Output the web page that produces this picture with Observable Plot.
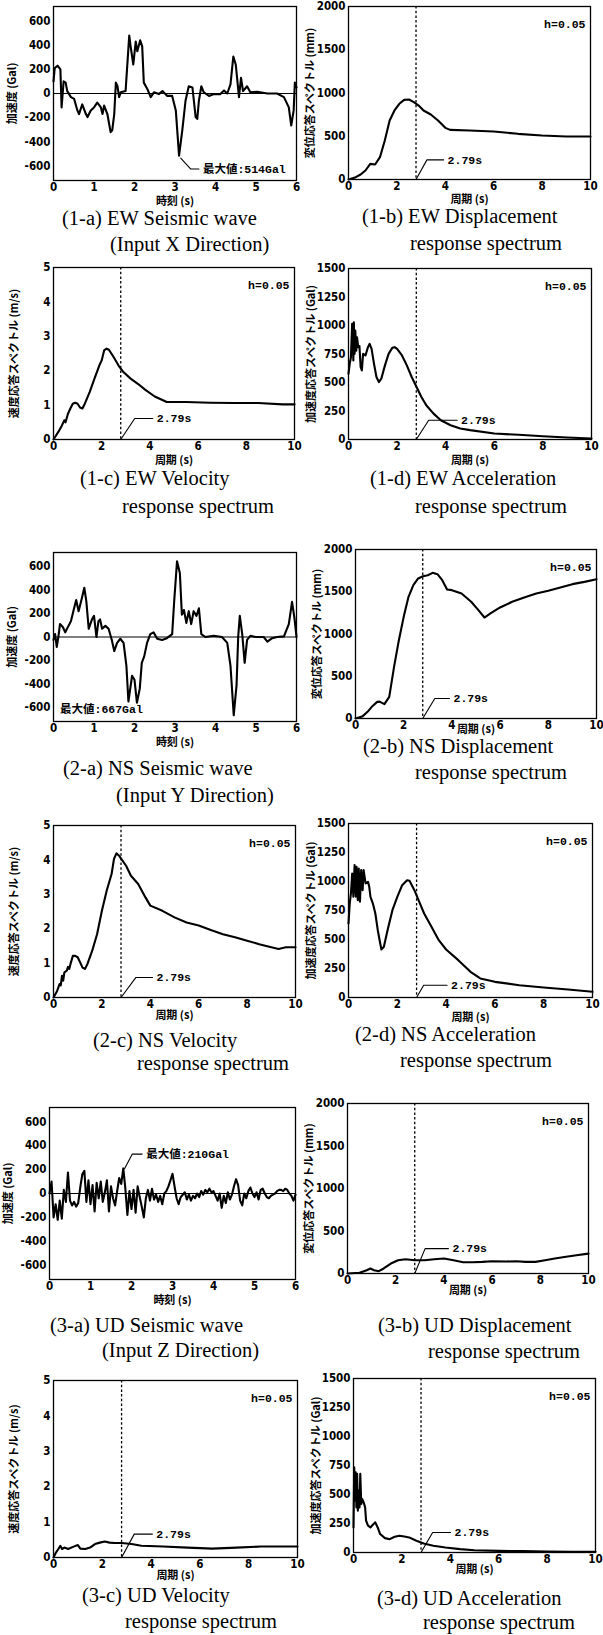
<!DOCTYPE html>
<html><head><meta charset="utf-8">
<script src="https://cdn.jsdelivr.net/npm/d3@7"></script>
<script src="https://cdn.jsdelivr.net/npm/@observablehq/plot@0.6"></script>
<style>
html,body{margin:0;padding:0;background:#fff;overflow:hidden}
#fig{position:relative;width:603px;height:1635px;background:#fff}
#fig svg{position:absolute}
</style></head><body><div id="fig"></div>
<script>
// ---------- tick labels ----------
const waveTimeTicks = [0, 1, 2, 3, 4, 5, 6];
const periodTicks = [0, 2, 4, 6, 8, 10];
const waveAccTicks = [-600, -400, -200, 0, 200, 400, 600];
const dispTicks = [0, 500, 1000, 1500, 2000];
const velTicks = [0, 1, 2, 3, 4, 5];
const accSpecTicks = [0, 250, 500, 750, 1000, 1250, 1500];
const characteristicPeriod = 2.79;

// ---------- seismic waves [time s, acceleration Gal] ----------
const ewWave = [[0,100],[0.03,210],[0.1,230],[0.17,200],[0.2,-115],[0.25,100],[0.3,90],[0.34,20],[0.43,-30],[0.51,-45],[0.59,-140],[0.63,-170],[0.71,-90],[0.8,-170],[0.84,-195],[0.92,-140],[1.0,-115],[1.08,-75],[1.17,-115],[1.21,-170],[1.25,-100],[1.33,-170],[1.41,-320],[1.45,-305],[1.5,-170],[1.54,90],[1.58,60],[1.62,-30],[1.66,10],[1.78,20],[1.87,480],[1.9,400],[1.97,240],[2.03,430],[2.07,350],[2.14,440],[2.19,390],[2.23,90],[2.32,35],[2.4,-30],[2.48,10],[2.6,-5],[2.69,20],[2.81,-20],[2.93,-20],[3.02,-140],[3.1,-514],[3.18,-305],[3.26,-60],[3.34,60],[3.43,50],[3.51,-195],[3.55,-210],[3.59,-60],[3.65,60],[3.71,10],[3.84,-20],[3.96,-5],[4.12,-5],[4.21,25],[4.29,0],[4.37,75],[4.44,305],[4.5,240],[4.58,-30],[4.63,130],[4.68,20],[4.78,60],[4.86,10],[5.03,15],[5.28,0],[5.52,0],[5.69,-30],[5.81,-115],[5.87,-265],[5.93,-140],[5.96,90],[6.0,50]];
const nsWave = [[0,-25],[0.04,25],[0.08,-85],[0.12,0],[0.16,110],[0.23,85],[0.29,40],[0.37,95],[0.43,135],[0.49,220],[0.56,315],[0.62,220],[0.7,330],[0.76,420],[0.81,305],[0.87,70],[0.95,150],[1.0,180],[1.06,0],[1.11,135],[1.15,150],[1.2,70],[1.28,95],[1.36,70],[1.44,-25],[1.5,-120],[1.57,-50],[1.65,-15],[1.73,-50],[1.8,-245],[1.85,-550],[1.94,-330],[2.0,-365],[2.06,-560],[2.13,-440],[2.18,-220],[2.24,-165],[2.31,-50],[2.39,25],[2.47,40],[2.56,-15],[2.68,-25],[2.8,-10],[2.93,25],[2.98,305],[3.05,645],[3.12,545],[3.17,190],[3.22,230],[3.28,120],[3.34,220],[3.4,110],[3.46,220],[3.53,180],[3.59,245],[3.65,25],[3.75,0],[3.96,10],[4.16,0],[4.29,-50],[4.37,-245],[4.45,-667],[4.52,-410],[4.56,0],[4.6,180],[4.66,25],[4.72,-220],[4.78,-25],[4.86,10],[4.99,0],[5.19,0],[5.28,-40],[5.4,-10],[5.52,0],[5.69,5],[5.81,110],[5.89,300],[5.95,160],[6.0,0]];
const udWaveStep = 0.05; // sampling interval of the values below (s)
const udWaveValues = [0,100,-200,-90,-220,-60,-210,30,-70,175,-60,-100,-70,-110,-80,50,160,190,-70,110,-90,70,-150,90,-40,100,-70,10,110,-150,60,-40,-100,20,130,80,210,40,-180,20,-130,30,-160,60,-30,-110,-200,-40,30,-60,40,-50,-10,-70,-20,-90,0,20,60,110,165,60,-40,-90,-30,-10,10,-50,-10,-60,-20,-40,0,-30,20,-10,30,10,40,10,20,-20,-60,0,-120,-20,-80,10,-50,-10,60,120,70,-60,-100,0,-40,20,50,0,-30,10,-50,30,40,0,-30,-40,-20,-10,0,20,30,30,20,40,30,0,-20,-60,-10];
const udWave = udWaveValues.map((v, i) => [i * udWaveStep, v]);

// ---------- response spectra [period s, value] ----------
const ewDisp = [[0,0],[0.3,27],[0.5,58],[0.7,104],[0.9,181],[1.1,173],[1.3,258],[1.5,450],[1.7,682],[1.9,798],[2.1,875],[2.3,921],[2.5,925],[2.7,894],[2.9,855],[3.1,798],[3.4,751],[3.7,682],[4.0,597],[4.2,574],[5,566],[6,555],[7,528],[8,509],[9,497],[10,497]];
const ewVel = [[0,0],[0.2,0.22],[0.35,0.41],[0.45,0.56],[0.5,0.5],[0.6,0.75],[0.7,0.9],[0.8,1.04],[0.9,1.07],[1.0,1.04],[1.1,0.93],[1.2,0.9],[1.3,1.04],[1.5,1.38],[1.7,1.77],[1.9,2.15],[2.0,2.3],[2.1,2.59],[2.2,2.64],[2.3,2.61],[2.5,2.39],[2.7,2.15],[2.9,1.96],[3.2,1.77],[3.5,1.62],[3.8,1.45],[4.2,1.25],[4.7,1.09],[5.5,1.09],[6.5,1.07],[7.5,1.06],[8.5,1.06],[9.5,1.02],[10,1.02]];
const ewAcc = [[0,577],[0.05,664],[0.1,722],[0.15,1014],[0.2,693],[0.22,1028],[0.25,751],[0.28,955],[0.32,780],[0.35,897],[0.4,810],[0.45,820],[0.5,635],[0.55,606],[0.6,751],[0.7,737],[0.8,810],[0.87,839],[0.95,795],[1.05,664],[1.15,548],[1.25,504],[1.35,533],[1.5,650],[1.65,751],[1.8,804],[1.9,810],[2.0,795],[2.2,737],[2.4,650],[2.6,548],[2.8,460],[3.0,373],[3.2,300],[3.5,227],[3.8,169],[4.2,125],[4.6,96],[5,82],[6,52],[7,41],[8,29],[9,17],[10,9]];
const nsDisp = [[0,0],[0.3,28],[0.5,79],[0.7,146],[0.9,197],[1.0,200],[1.2,170],[1.4,256],[1.6,611],[1.8,927],[2.0,1203],[2.2,1440],[2.4,1578],[2.6,1657],[2.8,1684],[3.0,1696],[3.2,1724],[3.4,1708],[3.6,1637],[3.8,1527],[4.0,1519],[4.4,1479],[4.8,1381],[5.1,1282],[5.35,1195],[5.6,1243],[6,1314],[6.5,1381],[7,1432],[7.5,1479],[8,1511],[8.5,1550],[9,1590],[9.5,1617],[10,1649]];
const nsVel = [[0,0],[0.15,0.19],[0.25,0.39],[0.3,0.35],[0.35,0.63],[0.4,0.49],[0.45,0.73],[0.55,0.78],[0.6,0.89],[0.65,0.83],[0.7,0.97],[0.8,1.21],[0.9,1.21],[1.0,1.17],[1.1,1.02],[1.2,0.87],[1.3,0.83],[1.4,0.97],[1.6,1.36],[1.8,1.84],[2.0,2.52],[2.2,3.11],[2.4,3.59],[2.5,4.03],[2.6,4.19],[2.7,4.13],[2.8,4.03],[3.0,3.83],[3.2,3.54],[3.5,3.3],[3.8,2.91],[4.0,2.67],[4.5,2.52],[5,2.33],[5.5,2.18],[6,2.09],[6.5,1.96],[7,1.84],[7.5,1.75],[8,1.65],[8.5,1.55],[9,1.46],[9.3,1.41],[9.6,1.46],[10,1.46]];
const nsAcc = [[0,638],[0.05,810],[0.1,897],[0.15,1069],[0.2,868],[0.25,1141],[0.3,870],[0.33,1126],[0.38,839],[0.42,1112],[0.47,825],[0.52,1098],[0.58,925],[0.62,1098],[0.7,983],[0.8,997],[0.85,954],[0.9,868],[1.0,810],[1.1,724],[1.2,580],[1.3,466],[1.35,414],[1.45,437],[1.6,580],[1.8,753],[2.0,868],[2.2,968],[2.4,1011],[2.5,1006],[2.7,925],[2.9,825],[3.1,724],[3.4,609],[3.7,494],[4.0,414],[4.5,322],[5,221],[5.4,164],[6,135],[7,106],[8,86],[9,69],[10,49]];
const udDisp = [[0,0],[0.5,8],[0.8,39],[0.95,59],[1.1,39],[1.3,27],[1.5,59],[1.8,117],[2.1,156],[2.4,168],[2.8,156],[3.2,156],[3.6,168],[4.0,176],[4.4,156],[4.8,133],[5.2,133],[5.6,137],[6,145],[6.6,141],[7,145],[7.4,137],[7.8,137],[8.2,156],[8.6,176],[9,195],[9.5,215],[10,234]];
const udVel = [[0,0],[0.1,0.14],[0.2,0.24],[0.28,0.33],[0.35,0.24],[0.45,0.28],[0.6,0.24],[0.8,0.3],[1.0,0.35],[1.1,0.25],[1.3,0.24],[1.5,0.28],[1.7,0.38],[1.9,0.42],[2.1,0.45],[2.3,0.42],[2.5,0.41],[2.8,0.41],[3.2,0.38],[3.6,0.33],[4.5,0.31],[5.5,0.28],[6.5,0.25],[7.5,0.28],[8.5,0.31],[9.5,0.31],[10,0.31]];
const udAcc = [[0,216],[0.03,735],[0.06,447],[0.09,692],[0.12,389],[0.15,678],[0.18,360],[0.21,534],[0.25,389],[0.28,678],[0.32,418],[0.36,461],[0.42,432],[0.48,389],[0.52,274],[0.6,231],[0.7,216],[0.8,239],[0.9,260],[1.0,216],[1.1,159],[1.3,124],[1.5,115],[1.7,136],[1.9,144],[2.1,138],[2.3,130],[2.6,101],[2.9,78],[3.3,58],[3.8,43],[4.4,29],[5,20],[6,14],[7,12],[8,9],[9,6],[10,6]];

// ---------- annotation leaders [x, y] ----------
const ewWaveLeader = [[3.14,-535],[3.39,-625],[3.59,-625]];
const nsWaveLeader = [[0.16,-615]];
const udWaveLeader = [[1.83,208],[2.02,330],[2.26,330]];
const ewDispLeader = [[2.79,0],[3.24,227],[3.93,227]];
const ewVelLeader = [[2.79,0],[3.37,0.61],[4.12,0.61]];
const ewAccLeader = [[2.79,0],[3.3,169],[4.47,169]];
const nsDispLeader = [[2.79,0],[3.29,237],[3.9,237]];
const nsVelLeader = [[2.79,0],[3.4,0.58],[4.09,0.58]];
const nsAccLeader = [[2.79,0],[3.08,106],[4.04,106]];
const udDispLeader = [[2.79,0],[3.22,293],[4.19,293]];
const udVelLeader = [[2.79,0],[3.31,0.66],[4.05,0.66]];
const udAccLeader = [[2.79,0],[3.27,173],[4.01,173]];

// ---------- styles ----------
const AX_FONT = '"Liberation Sans Narrow","DejaVu Sans Condensed","Noto Sans CJK JP",sans-serif';
const MONO = '"Liberation Mono","DejaVu Sans Mono","Noto Sans CJK JP",monospace';
const CJK = '"Noto Sans CJK JP",sans-serif';
const ML = 52, MR = 7, MT = 8, MB = 32;

const kinds = {
  wave: {xd:[0,6], xt:waveTimeTicks, yd:[-720,720], yt:waveAccTicks, xl:"時刻 (s)", yl:"加速度 (Gal)", ylo:45},
  disp: {xd:[0,10], xt:periodTicks, yd:[0,2000], yt:dispTicks, xl:"周期 (s)", yl:"変位応答スペクトル (mm)", ylo:42},
  vel:  {xd:[0,10], xt:periodTicks, yd:[0,5], yt:velTicks, xl:"周期 (s)", yl:"速度応答スペクトル (m/s)", ylo:43},
  acc:  {xd:[0,10], xt:periodTicks, yd:[0,1500], yt:accSpecTicks, xl:"周期 (s)", yl:"加速度応答スペクトル (Gal)", ylo:41}
};

const panels = [
  {k:"wave", f:[53,6,296,180], d:ewWave, lead:ewWaveLeader, note:"最大値:514Gal", xlo:24},
  {k:"disp", f:[348,6,590,179], d:ewDisp, lead:ewDispLeader, note:"2.79s", xlo:23},
  {k:"vel",  f:[53,267,294,439], d:ewVel, lead:ewVelLeader, note:"2.79s", xlo:24},
  {k:"acc",  f:[348,268,591,439], d:ewAcc, lead:ewAccLeader, note:"2.79s", xlo:24},
  {k:"wave", f:[53,552,296,721], d:nsWave, lead:nsWaveLeader, note:"最大値:667Gal", xlo:24},
  {k:"disp", f:[355,549,596,718], d:nsDisp, lead:nsDispLeader, note:"2.79s", xlo:14},
  {k:"vel",  f:[53,825,295,997], d:nsVel, lead:nsVelLeader, note:"2.79s", xlo:21},
  {k:"acc",  f:[348,823,592,997], d:nsAcc, lead:nsAccLeader, note:"2.79s", xlo:23},
  {k:"wave", f:[49,1107,295,1279], d:udWave, lead:udWaveLeader, note:"最大値:210Gal", xlo:24},
  {k:"disp", f:[347,1103,588,1273], d:udDisp, lead:udDispLeader, note:"2.79s", xlo:20},
  {k:"vel",  f:[53,1380,297,1557], d:udVel, lead:udVelLeader, note:"2.79s", xlo:21},
  {k:"acc",  f:[353,1378,595,1552], d:udAcc, lead:udAccLeader, note:"2.79s", xlo:20}
];

const fig = document.getElementById("fig");

for (const p of panels) {
  const K = kinds[p.k];
  const spec = p.k !== "wave";
  const marks = [];
  if (spec) marks.push(Plot.ruleX([characteristicPeriod], {stroke:"#000", strokeWidth:1.3, strokeDasharray:"2.5,2.2"}));
  else marks.push(Plot.ruleY([0], {stroke:"#000", strokeWidth:1.2}));
  marks.push(Plot.line(p.d, {x:d=>d[0], y:d=>d[1], stroke:"#000", strokeWidth:2.1, strokeLinejoin:"round"}));
  if (p.lead.length > 1) marks.push(Plot.line(p.lead, {x:d=>d[0], y:d=>d[1], stroke:"#000", strokeWidth:1.1}));
  marks.push(Plot.text([p.lead[p.lead.length-1]], {x:d=>d[0], y:d=>d[1], text:()=>p.note, textAnchor:"start", dx:p.lead.length>1?4:0, fontFamily:MONO, fontWeight:"bold", fontSize:11.5}));
  if (spec) marks.push(Plot.text(["h=0.05"], {frameAnchor:"top-right", dx:-5, dy:13, text:d=>d, fontFamily:MONO, fontWeight:"bold", fontSize:11.5}));
  marks.push(Plot.frame({stroke:"#000", strokeWidth:1.3}));
  marks.push(Plot.axisX(K.xt, {tickSize:0, tickPadding:2, tickFormat:d=>String(d), label:K.xl, labelAnchor:"center", labelOffset:p.xlo, labelArrow:"none"}));
  marks.push(Plot.axisY(K.yt, {tickSize:0, tickPadding:3, tickFormat:d=>String(d), label:K.yl, labelAnchor:"center", labelOffset:K.ylo, labelArrow:"none"}));
  const [x0,y0,x1,y1] = p.f;
  const svg = Plot.plot({
    width: x1 - x0 + ML + MR,
    height: y1 - y0 + MT + MB,
    marginLeft: ML, marginRight: MR, marginTop: MT, marginBottom: MB,
    x: {domain: K.xd},
    y: {domain: K.yd},
    style: {background:"transparent", overflow:"visible", fontFamily:AX_FONT, fontSize:"11.5px", fontWeight:"bold", color:"#000"},
    marks
  });
  // axis titles in a Japanese gothic face
  svg.querySelectorAll('g[aria-label="x-axis label"], g[aria-label="y-axis label"]').forEach(g => {
    g.setAttribute("font-family", CJK);
    g.setAttribute("font-size", "11");
    g.setAttribute("font-weight", "bold");
  });
  svg.style.left = (x0 - ML) + "px";
  svg.style.top = (y0 - MT) + "px";
  fig.appendChild(svg);
}

// ---------- captions ----------
const captions = [
  ["(1-a) EW Seismic wave", 62, 224.5], ["(Input X Direction)", 110, 251],
  ["(1-b) EW Displacement", 362, 223], ["response spectrum", 410, 250],
  ["(1-c) EW Velocity", 80, 485], ["response spectrum", 122, 513],
  ["(1-d) EW Acceleration", 370, 485], ["response spectrum", 415, 513],
  ["(2-a) NS Seismic wave", 63, 775], ["(Input Y Direction)", 116, 802],
  ["(2-b) NS Displacement", 363, 753], ["response spectrum", 415, 779],
  ["(2-c) NS Velocity", 93, 1047], ["response spectrum", 137, 1070],
  ["(2-d) NS Acceleration", 355, 1041], ["response spectrum", 400, 1067],
  ["(3-a) UD Seismic wave", 50, 1332], ["(Input Z Direction)", 102, 1357],
  ["(3-b) UD Displacement", 378, 1332], ["response spectrum", 428, 1358],
  ["(3-c) UD Velocity", 82, 1602], ["response spectrum", 125, 1628],
  ["(3-d) UD Acceleration", 377, 1605], ["response spectrum", 423, 1629]
];
const NS = "http://www.w3.org/2000/svg";
const cap = document.createElementNS(NS, "svg");
cap.setAttribute("width", 603); cap.setAttribute("height", 1635);
cap.style.left = "0px"; cap.style.top = "0px"; cap.style.pointerEvents = "none";
for (const [t, x, y] of captions) {
  const el = document.createElementNS(NS, "text");
  el.setAttribute("x", x); el.setAttribute("y", y);
  el.setAttribute("font-family", '"Liberation Serif","Times New Roman",serif');
  el.setAttribute("font-size", "20.5");
  el.setAttribute("fill", "#000");
  el.textContent = t;
  cap.appendChild(el);
}
fig.appendChild(cap);
</script>
</body></html>
